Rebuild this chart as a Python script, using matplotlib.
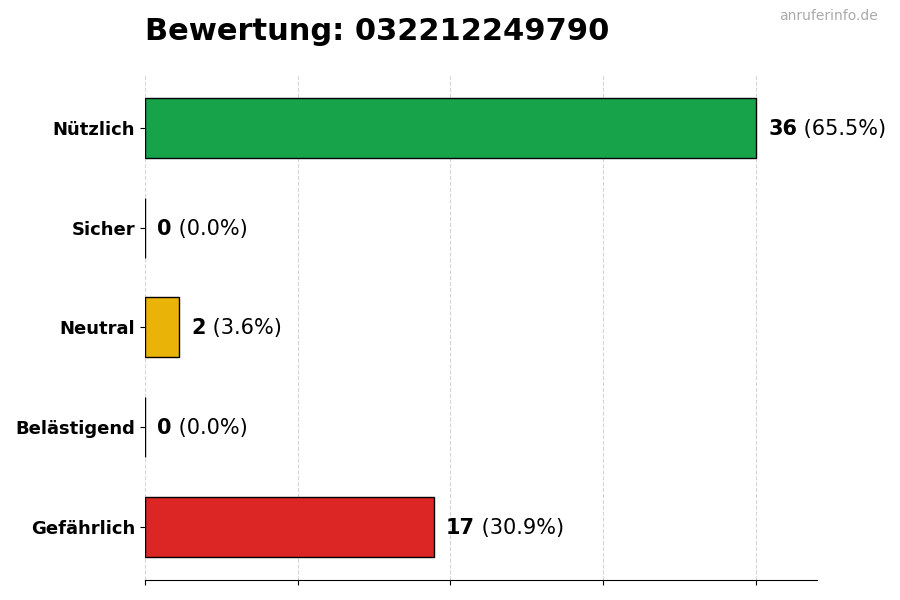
import matplotlib
matplotlib.use('Agg')
import matplotlib.pyplot as plt

# Daten
kategorien = ['Nützlich', 'Sicher', 'Neutral', 'Belästigend', 'Gefährlich']
anzahl = [36, 0, 2, 0, 17]
farben = ['#16a34a', '#6b7280', '#eab308', '#f97316', '#dc2626']
nummer = '032212249790'

gesamt = sum(anzahl)

fig = plt.figure(figsize=(9, 6), dpi=100)
ax = fig.add_axes([0.161, 0.0333, 0.747, 0.842])

pos = list(range(len(kategorien)))
ax.barh(pos, anzahl, height=0.6, color=farben, edgecolor='black', linewidth=1)
ax.invert_yaxis()
ax.set_yticks(pos)
ax.set_yticklabels(kategorien, fontsize=13, fontweight='bold')
ax.set_xlim(0, max(anzahl) * 1.1)
ax.set_xticks([0, 9, 18, 27, 36])
ax.set_xticklabels([])
ax.grid(axis='x', linestyle='--', color='#cccccc', alpha=0.8)
ax.set_axisbelow(True)
for s in ['top', 'right', 'left']:
    ax.spines[s].set_visible(False)

# Werte neben den Balken
for i, n in enumerate(anzahl):
    t = ax.text(n + max(anzahl) * 0.02, i + 0.01, str(n), fontsize=15, fontweight='bold',
                va='center', ha='left')
    ax.annotate(f' ({n / gesamt * 100:.1f}%)', xy=(1, 0), xycoords=t,
                fontsize=15, va='bottom', ha='left')

fig.text(0.161, 0.934, f'Bewertung: {nummer}', fontsize=22, fontweight='bold',
         ha='left', va='baseline')
fig.text(0.975, 0.967, 'anruferinfo.de', fontsize=10, color='#aaaaaa',
         ha='right', va='baseline')

fig.savefig('out.png', dpi=100)
